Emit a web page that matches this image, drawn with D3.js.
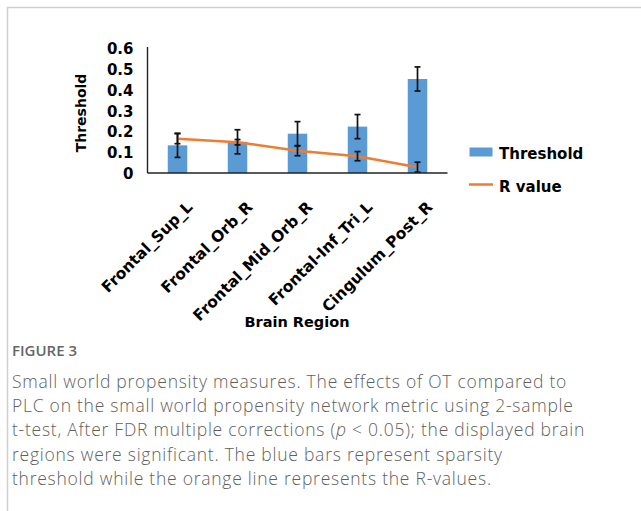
<!DOCTYPE html>
<html>
<head>
<meta charset="utf-8">
<script src="https://cdn.jsdelivr.net/npm/d3@7/dist/d3.min.js"></script>
<style>
  html, body { margin: 0; padding: 0; background: #fff; }
  svg { display: block; }
</style>
</head>
<body>
<svg id="chart" width="641" height="511"></svg>
<script>
const categories = ["Frontal_Sup_L", "Frontal_Orb_R", "Frontal_Mid_Orb_R", "Frontal-Inf_Tri_L", "Cingulum_Post_R"];
const threshold = [0.133, 0.150, 0.189, 0.223, 0.452];
const thresholdErr = [0.058, 0.058, 0.058, 0.058, 0.058];
const rValue = [0.165, 0.148, 0.107, 0.081, 0.028];
const rErr = [0.024, 0.013, 0.024, 0.022, 0.024];
const yTicks = [0, 0.1, 0.2, 0.3, 0.4, 0.5, 0.6];
const yTickLabels = ["0", "0.1", "0.2", "0.3", "0.4", "0.5", "0.6"];
const legendLabels = ["Threshold", "R value"];
const captionTitle = "FIGURE 3";
const captionLines = [
  "Small world propensity measures. The effects of OT compared to",
  "PLC on the small world propensity network metric using 2-sample",
  "t-test, After FDR multiple corrections (|p| < 0.05); the displayed brain",
  "regions were significant. The blue bars represent sparsity",
  "threshold while the orange line represents the R-values."
];

const svg = d3.select("#chart");
const boldFont = "'DejaVu Sans', sans-serif";
const blue = "#5b9bd5", orange = "#ed7d31";

// frame
svg.append("path").attr("d", "M641,7.5 H7.5 V511").attr("fill", "none")
  .attr("stroke", "#d0d0d0").attr("stroke-width", 1.5);

const x = d3.scaleBand().domain(categories).range([147.5, 447.5])
  .paddingInner(0.675).paddingOuter(0.3375);
const y = d3.scaleLinear().domain([0, 0.6]).range([173, 48.2]);

const g = svg.append("g");

// bars
g.selectAll("rect.bar").data(categories).join("rect")
  .attr("x", d => x(d)).attr("width", x.bandwidth())
  .attr("y", (d, i) => y(threshold[i]))
  .attr("height", (d, i) => y(0) - y(threshold[i]))
  .attr("fill", blue);

function errBars(vals, errs, cls) {
  const eg = g.append("g").attr("class", cls);
  categories.forEach((c, i) => {
    const cx = x(c) + x.bandwidth() / 2;
    const hi = y(vals[i] + errs[i]), lo = y(vals[i] - errs[i]);
    eg.append("line").attr("x1", cx).attr("x2", cx).attr("y1", hi).attr("y2", lo)
      .attr("stroke", "#111").attr("stroke-width", 1.7);
    [hi, lo].forEach(yy => eg.append("line").attr("x1", cx - 3).attr("x2", cx + 3)
      .attr("y1", yy).attr("y2", yy).attr("stroke", "#111").attr("stroke-width", 1.7));
  });
}
errBars(threshold, thresholdErr, "terr");

// R line
const line = d3.line().x((d, i) => x(categories[i]) + x.bandwidth() / 2).y(d => y(d));
g.append("path").datum(rValue).attr("d", line).attr("fill", "none")
  .attr("stroke", orange).attr("stroke-width", 2.5);
errBars(rValue, rErr, "rerr");

// axes
const yAxis = d3.axisLeft(y).tickValues(yTicks).tickSize(0).tickPadding(14)
  .tickFormat((d, i) => yTickLabels[i]);
const ya = svg.append("g").attr("transform", "translate(147.5,0)").call(yAxis);
ya.select(".domain").remove();
ya.append("line").attr("x1", 0).attr("x2", 0).attr("y1", 47).attr("y2", 173)
  .attr("stroke", "#222").attr("stroke-width", 1.4);
ya.selectAll("text").attr("font-family", boldFont).attr("font-weight", "bold")
  .attr("font-size", 15).attr("fill", "#000").attr("dy", "0.36em");

const xAxis = d3.axisBottom(x).tickSize(0).tickPadding(0);
const xa = svg.append("g").attr("transform", "translate(0,173)").call(xAxis);
xa.select(".domain").remove();
xa.append("line").attr("x1", 147.5).attr("x2", 447.5).attr("y1", 0).attr("y2", 0)
  .attr("stroke", "#222").attr("stroke-width", 1.4);
xa.selectAll(".tick text")
  .attr("font-family", boldFont).attr("font-weight", "bold").attr("font-size", 15.5)
  .attr("fill", "#000").attr("text-anchor", "end").attr("dy", 0).attr("y", 0)
  .attr("transform", "translate(16,35) rotate(-45)");

// axis titles
svg.append("text").attr("transform", "translate(86,113) rotate(-90)")
  .attr("text-anchor", "middle").attr("font-family", boldFont).attr("font-weight", "bold")
  .attr("font-size", 14).text("Threshold");
svg.append("text").attr("x", 297).attr("y", 327).attr("text-anchor", "middle")
  .attr("font-family", boldFont).attr("font-weight", "bold").attr("font-size", 14.5)
  .text("Brain Region");

// legend
const lg = svg.append("g");
lg.append("rect").attr("x", 469.5).attr("y", 147.5).attr("width", 23).attr("height", 9).attr("fill", blue);
lg.append("line").attr("x1", 469).attr("x2", 493).attr("y1", 184.5).attr("y2", 184.5)
  .attr("stroke", orange).attr("stroke-width", 2.5);
lg.selectAll("text.leg").data(legendLabels).join("text")
  .attr("x", 499).attr("y", (d, i) => [159, 191.5][i])
  .attr("font-family", boldFont).attr("font-weight", "bold").attr("font-size", 15)
  .text(d => d);

// caption
const capFont = "'Open Sans', sans-serif";
svg.append("text").attr("x", 12).attr("y", 356).attr("font-family", capFont)
  .attr("font-weight", 600).attr("font-size", 15).attr("fill", "#666").text(captionTitle);
captionLines.forEach((l, i) => {
  const t = svg.append("text").attr("x", 12).attr("y", 388 + i * 24.2)
    .attr("font-family", capFont).attr("font-weight", 300).attr("font-size", 17.5)
    .attr("letter-spacing", 0.75).attr("fill", "#5f5f5f");
  const parts = l.split("|");
  parts.forEach((p, j) => {
    t.append("tspan").attr("font-style", j % 2 === 1 ? "italic" : "normal").text(p);
  });
});
</script>
</body>
</html>
